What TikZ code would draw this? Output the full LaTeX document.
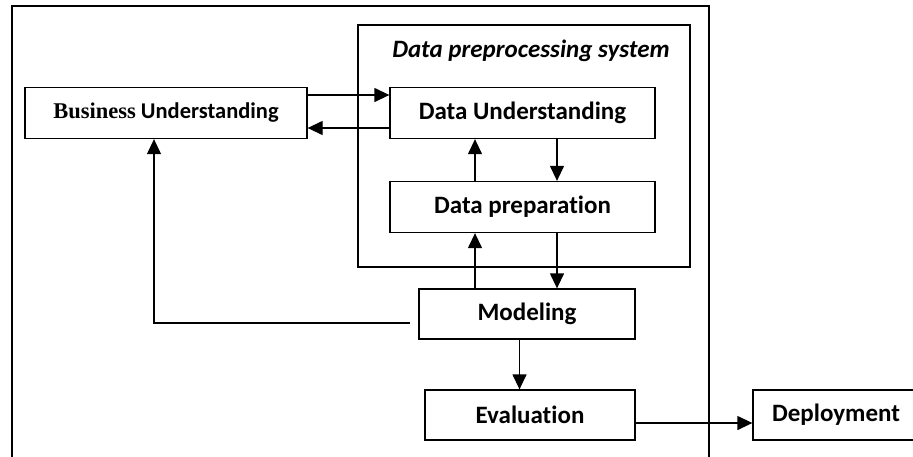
\documentclass[tikz,border=0pt]{standalone}
\usepackage{fontspec}
\setmainfont[Ligatures=NoCommon]{Carlito}
\newfontfamily\serifbold{Liberation Serif}
\usetikzlibrary{arrows.meta}
\tikzset{
  stage/.style={draw, line width=1.3pt, minimum height=51pt, inner sep=0pt,
                font=\fontsize{25}{28}\selectfont\bfseries},
  frame/.style={draw, line width=1.4pt},
  arr/.style={line width=1.3pt, -{Triangle[length=15pt,width=14pt]}},
}
\begin{document}
\begin{tikzpicture}[x=1pt, y=-1pt]
  \useasboundingbox (0,0) rectangle (913,456);
  \clip (0,0) rectangle (913,456);
  \fill[white] (0,0) rectangle (913,456);

  % outer frame and preprocessing subsystem
  \draw[frame] (12,6) rectangle (709,480);
  \draw[frame] (358,25) rectangle (690,267);
  \node[font=\fontsize{25}{28}\selectfont\bfseries\itshape] (title) at (531,51) {Data preprocessing system};

  % stages
  \node[stage, minimum width=282pt, font=\fontsize{22.5}{26}\selectfont\bfseries] (BU) at (166,113)
    {{\serifbold Business} Understanding};
  \node[stage, minimum width=265pt] (DU) at (522.5,113) {Data Understanding};
  \node[stage, minimum width=265pt] (DP) at (522.5,207) {Data preparation};
  \node[stage, minimum width=216pt, minimum height=50pt] (MO) at (527,314) {Modeling};
  \node[stage, minimum width=210pt, minimum height=50pt] (EV) at (530,415) {Evaluation};
  \node[stage, minimum width=166pt, minimum height=50pt] (DE) at (836,415) {Deployment};

  % vertical connector lanes
  \coordinate (up) at (475,0);
  \coordinate (down) at (557,0);
  \coordinate (back) at (154,0);
  \coordinate (eval) at (519.5,0);
  \coordinate (fb) at ([xshift=-8pt,yshift=-9pt]MO.west);

  % connectors
  \draw[arr] ([yshift=18pt]BU.east) -- ([yshift=18pt]DU.west);
  \draw[arr] ([yshift=-15pt]DU.west) -- ([yshift=-15pt]BU.east);
  \draw[arr] (DP.north -| up) -- (DU.south -| up);
  \draw[arr] (DU.south -| down) -- (DP.north -| down);
  \draw[arr] (MO.north -| up) -- (DP.south -| up);
  \draw[arr] (DP.south -| down) -- (MO.north -| down);
  \draw[arr] (fb) -| (BU.south -| back);
  \draw[arr] (MO.south -| eval) -- (EV.north -| eval);
  \draw[arr] ([yshift=-8pt]EV.east) -- ([yshift=-8pt]DE.west);
\end{tikzpicture}
\end{document}
